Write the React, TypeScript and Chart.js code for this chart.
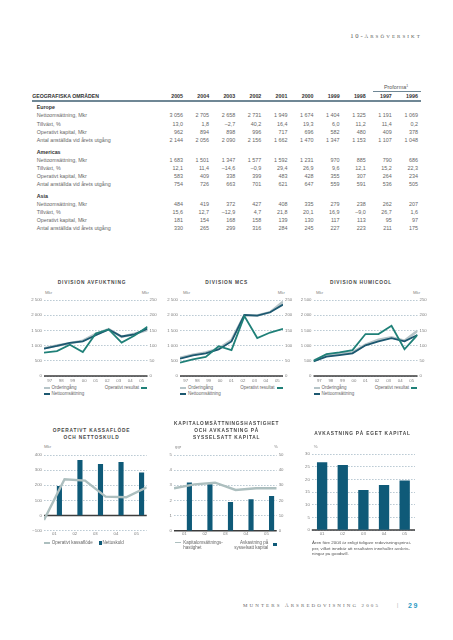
import React, { useEffect, useRef } from 'react';
import { Chart, registerables } from 'chart.js';
Chart.register(...registerables);

// ---------------- data ----------------
const tableYears = ['2005', '2004', '2003', '2002', '2001', '2000', '1999', '1998', '1997', '1996'];
const regionNames = ['Europe', 'Americas', 'Asia'];
const metricLabels = ['Nettoomsättning, Mkr', 'Tillväxt, %', 'Operativt kapital, Mkr', 'Antal anställda vid årets utgång'];

const europeNetSales = [3056, 2705, 2658, 2731, 1949, 1674, 1404, 1325, 1191, 1069];
const europeGrowth = [13.0, 1.8, -2.7, 40.2, 16.4, 19.3, 6.0, 11.2, 11.4, 0.2];
const europeCapital = [962, 894, 898, 996, 717, 696, 582, 480, 409, 378];
const europeStaff = [2144, 2056, 2090, 2156, 1662, 1470, 1347, 1153, 1107, 1048];

const americasNetSales = [1683, 1501, 1347, 1577, 1592, 1231, 970, 885, 790, 686];
const americasGrowth = [12.1, 11.4, -14.6, -0.9, 29.4, 26.9, 9.6, 12.1, 15.2, 22.3];
const americasCapital = [583, 409, 338, 399, 483, 428, 355, 307, 264, 234];
const americasStaff = [754, 726, 663, 701, 621, 647, 559, 591, 536, 505];

const asiaNetSales = [484, 419, 372, 427, 408, 335, 279, 238, 262, 207];
const asiaGrowth = [15.6, 12.7, -12.9, 4.7, 21.8, 20.1, 16.9, -9.0, 26.7, 1.6];
const asiaCapital = [181, 154, 168, 158, 139, 130, 117, 113, 95, 97];
const asiaStaff = [330, 265, 299, 316, 284, 245, 227, 223, 211, 175];

const divisionYears = ['97', '98', '99', '00', '01', '02', '03', '04', '05'];

const avfOrders = [910, 1000, 1080, 1160, 1380, 1540, 1290, 1390, 1510];
const avfNetSales = [900, 990, 1090, 1140, 1340, 1530, 1300, 1370, 1560];
const avfOperatingProfit = [77, 82, 103, 79, 140, 153, 110, 133, 162];

const mcsOrders = [600, 700, 770, 900, 1180, 2000, 1990, 2100, 2440];
const mcsNetSales = [568, 677, 743, 874, 1136, 2009, 1987, 2097, 2348];
const mcsOperatingProfit = [44, 55, 63, 98, 85, 197, 125, 143, 155];

const humOrders = [500, 690, 735, 775, 1030, 1190, 1275, 1160, 1490];
const humNetSales = [480, 640, 690, 745, 1010, 1140, 1245, 1140, 1350];
const humOperatingProfit = [50, 72, 78, 85, 138, 138, 165, 88, 135];

const financeYears = ['01', '02', '03', '04', '05'];
const netDebt = [196, 367, 341, 354, 284];
const operatingCashFlow = [-29, 240, 231, 125, 121, 187];
const capitalTurnover = [2.8, 3.06, 3.17, 2.69, 2.8, 2.8];
const returnOnCapitalEmployed = [31.9, 30.6, 18.9, 20.7, 22.9];
const returnOnEquity = [26.7, 25.7, 15.8, 17.8, 19.5];

// ---------------- styles ----------------
const SANS = "'Liberation Sans', Arial, Helvetica, sans-serif";
const SERIF = "'Liberation Serif', 'DejaVu Serif', serif";
const C_GRID = '#9fb4c2';
const C_TICK = '#7d7d7d';
const C_ZERO = '#3c3c3c';
const C_ORDER = '#b6c4c8';
const C_SALES = '#1c5870';
const C_PROFIT = '#1f8078';
const C_BAR = '#0f5a78';
const C_CASH = '#adbfbf';
const C_RULE = '#6f8795';

const tickFont = { family: SANS, size: 4.3 };

const fmtSpace = (v: number) => {
  const s = Math.abs(Math.round(v)).toString().replace(/\B(?=(\d{3})+(?!\d))/g, ' ');
  return (v < 0 ? '−' : '') + s;
};
const fmtInt = (v: number) => fmtSpace(v);
const fmtDec = (v: number) => (v < 0 ? '–' : '') + Math.abs(v).toFixed(1).replace('.', ',');

const zeroLine = {
  id: 'zeroLine',
  beforeDatasetsDraw(chart: any) {
    const y = chart.scales.y;
    const { left, right } = chart.chartArea;
    const py = y.getPixelForValue(0);
    const ctx = chart.ctx;
    ctx.save();
    ctx.strokeStyle = C_ZERO;
    ctx.lineWidth = 1.4;
    ctx.beginPath();
    ctx.moveTo(left, py);
    ctx.lineTo(right, py);
    ctx.stroke();
    ctx.restore();
  },
};

function yAxis(min: number, max: number, step: number, width: number, position: 'left' | 'right', grid: boolean, fmt: (v: number) => string) {
  return {
    type: 'linear',
    position,
    min,
    max,
    afterFit: (s: any) => { s.width = width; },
    border: { display: false, dash: [1.6, 1.4] },
    grid: { display: grid, drawTicks: false, color: C_GRID, lineWidth: 0.7 },
    ticks: { stepSize: step, padding: 2, color: C_TICK, font: tickFont, callback: (v: any) => fmt(Number(v)) },
  };
}

function xCategory(labels: string[], height: number, padding: number) {
  return {
    type: 'category',
    labels,
    offset: true,
    position: 'bottom',
    afterFit: (s: any) => { s.height = height; },
    grid: { display: false, drawTicks: false, offset: true },
    border: { display: false },
    ticks: { padding, color: C_TICK, font: tickFont, maxRotation: 0, minRotation: 0, autoSkip: false },
  };
}

function xIndex(max: number) {
  return { type: 'linear', display: false, offset: false, grid: { offset: false }, min: 0, max, position: 'bottom' };
}

const pts = (arr: number[]) => arr.map((v, i) => ({ x: i, y: v }));

const baseOptions = (top: number, right = 0) => ({
  animation: false,
  responsive: false,
  events: [],
  layout: { padding: { top, left: 0, right, bottom: 0 } },
  plugins: { legend: { display: false }, tooltip: { enabled: false } },
});

function divisionChart(canvas: HTMLCanvasElement, orders: number[], sales: number[], profit: number[], lw: number, rw: number) {
  return new Chart(canvas, {
    type: 'line',
    data: {
      labels: divisionYears,
      datasets: [
        { label: 'Operativt resultat', data: pts(profit), xAxisID: 'xl', yAxisID: 'y2', borderColor: C_PROFIT, borderWidth: 1.8, pointRadius: 0, tension: 0 },
        { label: 'Nettoomsättning', data: pts(sales), xAxisID: 'xl', yAxisID: 'y', borderColor: C_SALES, borderWidth: 1.8, pointRadius: 0, tension: 0 },
        { label: 'Orderingång', data: pts(orders), xAxisID: 'xl', yAxisID: 'y', borderColor: C_ORDER, borderWidth: 2.6, pointRadius: 0, tension: 0 },
      ],
    } as any,
    options: {
      ...baseOptions(12),
      scales: {
        x: xCategory(divisionYears, 12, 2.4),
        xl: xIndex(divisionYears.length - 1),
        y: yAxis(0, 2500, 500, lw, 'left', true, fmtSpace),
        y2: yAxis(0, 250, 50, rw, 'right', false, fmtSpace),
      },
    } as any,
    plugins: [zeroLine],
  });
}

// ---------------- text helpers ----------------
type TP = { x: number; y: number; children: any; size?: number; weight?: number; color?: string; align?: 'left' | 'right' | 'center'; family?: string; ls?: number };
function T({ x, y, children, size = 5.4, weight = 400, color = '#666', align = 'left', family = SANS, ls = 0 }: TP) {
  const tx = align === 'left' ? '0' : align === 'right' ? '-100%' : '-50%';
  return (
    <div style={{ position: 'absolute', left: x, top: y, transform: `translate(${tx}, -50%)`, fontSize: size, fontWeight: weight, color, fontFamily: family, letterSpacing: ls, whiteSpace: 'nowrap', lineHeight: 1 }}>
      {children}
    </div>
  );
}
function LineGlyph({ x, y, color, w = 6, h = 1.6 }: { x: number; y: number; color: string; w?: number; h?: number }) {
  return <div style={{ position: 'absolute', left: x, top: y - h / 2, width: w, height: h, background: color }} />;
}
function Box({ x, y, color, s = 3.2 }: { x: number; y: number; color: string; s?: number }) {
  return <div style={{ position: 'absolute', left: x, top: y - s / 2, width: s, height: s, background: color }} />;
}

const regionRows = [
  [europeNetSales, europeGrowth, europeCapital, europeStaff],
  [americasNetSales, americasGrowth, americasCapital, americasStaff],
  [asiaNetSales, asiaGrowth, asiaCapital, asiaStaff],
];

const colRight = (i: number) => 183 + 26.1 * i;

function Table() {
  const out: any[] = [];
  out.push(<T key="pf" x={396} y={87.7} align="center" size={5.4} color="#555">Proforma<sup style={{ fontSize: 3.4, verticalAlign: 'top' }}>1</sup></T>);
  out.push(<div key="pfl" style={{ position: 'absolute', left: 373, top: 91, width: 48, height: 1, background: C_RULE }} />);
  out.push(<T key="gh" x={32.3} y={97.3} size={5.2} weight={700} color="#333">GEOGRAFISKA OMRÅDEN</T>);
  tableYears.forEach((yr, i) => out.push(<T key={'y' + yr} x={colRight(i)} y={97.3} align="right" size={5.3} weight={700} color="#333">{yr}</T>));
  out.push(<div key="hr" style={{ position: 'absolute', left: 32, top: 100, width: 388.5, height: 1.5, background: C_RULE }} />);
  regionNames.forEach((rn, g) => {
    const gy = 108.3 + 44.2 * g;
    out.push(<T key={'rn' + g} x={36.7} y={gy} size={5.3} weight={700} color="#333">{rn}</T>);
    regionRows[g].forEach((vals, r) => {
      const ry = gy + 8.1 * (r + 1);
      out.push(<T key={`l${g}${r}`} x={36.7} y={ry} size={5.3} color="#666">{metricLabels[r]}</T>);
      vals.forEach((v, i) => out.push(
        <T key={`v${g}${r}${i}`} x={colRight(i)} y={ry} align="right" size={5.4} color="#666">{r === 1 ? fmtDec(v) : fmtInt(v)}</T>
      ));
    });
  });
  return <>{out}</>;
}

const titleStyle = { size: 4.8, weight: 700, color: '#474747', ls: 0.8 };

export default function App() {
  const c1 = useRef<HTMLCanvasElement>(null);
  const c2 = useRef<HTMLCanvasElement>(null);
  const c3 = useRef<HTMLCanvasElement>(null);
  const c4 = useRef<HTMLCanvasElement>(null);
  const c5 = useRef<HTMLCanvasElement>(null);
  const c6 = useRef<HTMLCanvasElement>(null);

  useEffect(() => {
    const charts: Chart[] = [];
    charts.push(divisionChart(c1.current!, avfOrders, avfNetSales, avfOperatingProfit, 44, 12.5));
    charts.push(divisionChart(c2.current!, mcsOrders, mcsNetSales, mcsOperatingProfit, 30, 17));
    charts.push(divisionChart(c3.current!, humOrders, humNetSales, humOperatingProfit, 15.5, 35.5));

    charts.push(new Chart(c4.current!, {
      type: 'bar',
      data: {
        labels: financeYears,
        datasets: [
          { type: 'line', label: 'Operativt kassaflöde', data: pts(operatingCashFlow), xAxisID: 'xl', yAxisID: 'y', borderColor: C_CASH, borderWidth: 2.4, pointRadius: 0, tension: 0 },
          { type: 'bar', label: 'Nettoskuld', data: netDebt, xAxisID: 'x', yAxisID: 'y', backgroundColor: C_BAR, barPercentage: 0.5, categoryPercentage: 1 },
        ],
      } as any,
      options: {
        ...baseOptions(7, 13.3),
        scales: {
          x: xCategory(financeYears, 9.3, 1),
          xl: xIndex(operatingCashFlow.length - 1),
          y: yAxis(-100, 400, 100, 44, 'left', true, fmtSpace),
        },
      } as any,
      plugins: [zeroLine],
    }));

    charts.push(new Chart(c5.current!, {
      type: 'bar',
      data: {
        labels: financeYears,
        datasets: [
          { type: 'line', label: 'Kapitalomsättningshastighet', data: pts(capitalTurnover), xAxisID: 'xl', yAxisID: 'y', borderColor: C_CASH, borderWidth: 2.4, pointRadius: 0, tension: 0 },
          { type: 'bar', label: 'Avkastning på sysselsatt kapital', data: returnOnCapitalEmployed, xAxisID: 'x', yAxisID: 'y2', backgroundColor: C_BAR, barPercentage: 0.5, categoryPercentage: 1 },
        ],
      } as any,
      options: {
        ...baseOptions(7),
        scales: {
          x: xCategory(financeYears, 9.3, 1),
          xl: xIndex(capitalTurnover.length - 1),
          y: yAxis(0, 5, 1, 24, 'left', true, (v) => String(v)),
          y2: yAxis(0, 50, 10, 23.3, 'right', false, (v) => String(v)),
        },
      } as any,
      plugins: [zeroLine],
    }));

    charts.push(new Chart(c6.current!, {
      type: 'bar',
      data: {
        labels: financeYears,
        datasets: [
          { label: 'Avkastning på eget kapital', data: returnOnEquity, backgroundColor: C_BAR, barPercentage: 0.5, categoryPercentage: 1 },
        ],
      } as any,
      options: {
        ...baseOptions(6, 38),
        scales: {
          x: xCategory(financeYears, 10, 1.4),
          y: yAxis(0, 30, 5, 13.8, 'left', true, (v) => String(v)),
        },
      } as any,
      plugins: [zeroLine],
    }));

    return () => charts.forEach((c) => c.destroy());
  }, []);

  const cv = (left: number, top: number, w: number, h: number) => ({ position: 'absolute' as const, left, top, width: w, height: h });

  return (
    <div style={{ position: 'absolute', left: 0, top: 0, width: 453, height: 640, background: '#fff', overflow: 'hidden', fontFamily: SANS }}>
      {/* page header */}
      <div style={{ position: 'absolute', right: 31, top: 33, transform: 'translateY(-50%)', fontFamily: SERIF, color: '#555', whiteSpace: 'nowrap', lineHeight: 1 }}>
        <span style={{ fontSize: 6.6, letterSpacing: 1.8 }}>10-</span>
        <span style={{ fontSize: 5, letterSpacing: 2.1 }}>ÅRSÖVERSIKT</span>
      </div>

      <Table />

      {/* division charts titles / units / legends */}
      <T x={92} y={283} align="center" {...titleStyle}>DIVISION AVFUKTNING</T>
      <T x={226.7} y={283} align="center" {...titleStyle}>DIVISION MCS</T>
      <T x={361} y={283} align="center" {...titleStyle}>DIVISION HUMICOOL</T>

      <T x={45} y={292.7} size={4.3} color="#888">Mkr</T>
      <T x={141.7} y={292.7} size={4.3} color="#888">Mkr</T>
      <T x={183} y={292.7} size={4.3} color="#888">Mkr</T>
      <T x={277.7} y={292.7} size={4.3} color="#888">Mkr</T>
      <T x={316} y={292.7} size={4.3} color="#888">Mkr</T>
      <T x={413} y={292.7} size={4.3} color="#888">Mkr</T>

      {[{ l: 43.5, r: 147 }, { l: 180, r: 282.5 }, { l: 313.5, r: 417 }].map((p, i) => (
        <React.Fragment key={'lg' + i}>
          <LineGlyph x={p.l} y={388} color={C_ORDER} />
          <T x={p.l + 8} y={388} size={4.5} color="#666">Orderingång</T>
          <T x={p.r - 8} y={388} size={4.5} color="#666" align="right">Operativt resultat</T>
          <LineGlyph x={p.r - 6} y={388} color={C_PROFIT} />
          <LineGlyph x={p.l} y={394} color={C_SALES} />
          <T x={p.l + 8} y={394} size={4.5} color="#666">Nettoomsättning</T>
        </React.Fragment>
      ))}

      <canvas ref={c1} width={160} height={100} style={cv(0, 288, 160, 100)} />
      <canvas ref={c2} width={150} height={100} style={cv(150, 288, 150, 100)} />
      <canvas ref={c3} width={155} height={100} style={cv(298, 288, 155, 100)} />

      {/* bottom charts titles */}
      <T x={91.5} y={431} align="center" {...titleStyle}>OPERATIVT KASSAFLÖDE</T>
      <T x={91.5} y={438} align="center" {...titleStyle}>OCH NETTOSKULD</T>
      <T x={226.7} y={424} align="center" {...titleStyle}>KAPITALOMSÄTTNINGSHASTIGHET</T>
      <T x={226.7} y={431} align="center" {...titleStyle}>OCH AVKASTNING PÅ</T>
      <T x={226.7} y={438} align="center" {...titleStyle}>SYSSELSATT KAPITAL</T>
      <T x={362.5} y={434} align="center" {...titleStyle}>AVKASTNING PÅ EGET KAPITAL</T>

      <T x={44} y={447} size={4.3} color="#888">Mkr</T>
      <T x={175} y={447} size={4.3} color="#888">ggr</T>
      <T x={274} y={447} size={4.3} color="#888">%</T>
      <T x={313.7} y={446.7} size={4.3} color="#888">%</T>

      <canvas ref={c4} width={160} height={92} style={cv(0, 448, 160, 92)} />
      <canvas ref={c5} width={150} height={92} style={cv(150, 448, 150, 92)} />
      <canvas ref={c6} width={155} height={92} style={cv(298, 448, 155, 92)} />

      {/* bottom legends */}
      <LineGlyph x={43.5} y={543} color={C_CASH} />
      <T x={51.7} y={543} size={4.5} color="#666">Operativt kassaflöde</T>
      <Box x={98.5} y={543} color={C_BAR} />
      <T x={102.5} y={543} size={4.5} color="#666">Nettoskuld</T>

      <LineGlyph x={175} y={542.7} color={C_CASH} />
      <T x={183.3} y={542.7} size={4.5} color="#666">Kapitalomsättnings-</T>
      <T x={183.3} y={548.3} size={4.5} color="#666">hastighet</T>
      <T x={268.3} y={542.7} size={4.5} color="#666" align="right">Avkastning på</T>
      <T x={268.3} y={548.3} size={4.5} color="#666" align="right">sysselsatt kapital</T>
      <Box x={273.3} y={544.5} color={C_BAR} s={3.4} />

      <T x={312} y={543} size={4.4} color="#555">Åren före 2004 är enligt tidigare redovisningsprinci-</T>
      <T x={312} y={548.5} size={4.4} color="#555">per, vilket innebär att resultaten innehåller avskriv-</T>
      <T x={312} y={554} size={4.4} color="#555">ningar på goodwill.</T>

      {/* footer */}
      <T x={243} y={605} size={5} family={SERIF} color="#666" ls={2.1}>MUNTERS ÅRSREDOVISNING 2005</T>
      <T x={397} y={605} size={6} family={SERIF} color="#888">|</T>
      <T x={408} y={605} size={7} weight={700} color="#2a9bc4" ls={1.5}>29</T>
    </div>
  );
}
